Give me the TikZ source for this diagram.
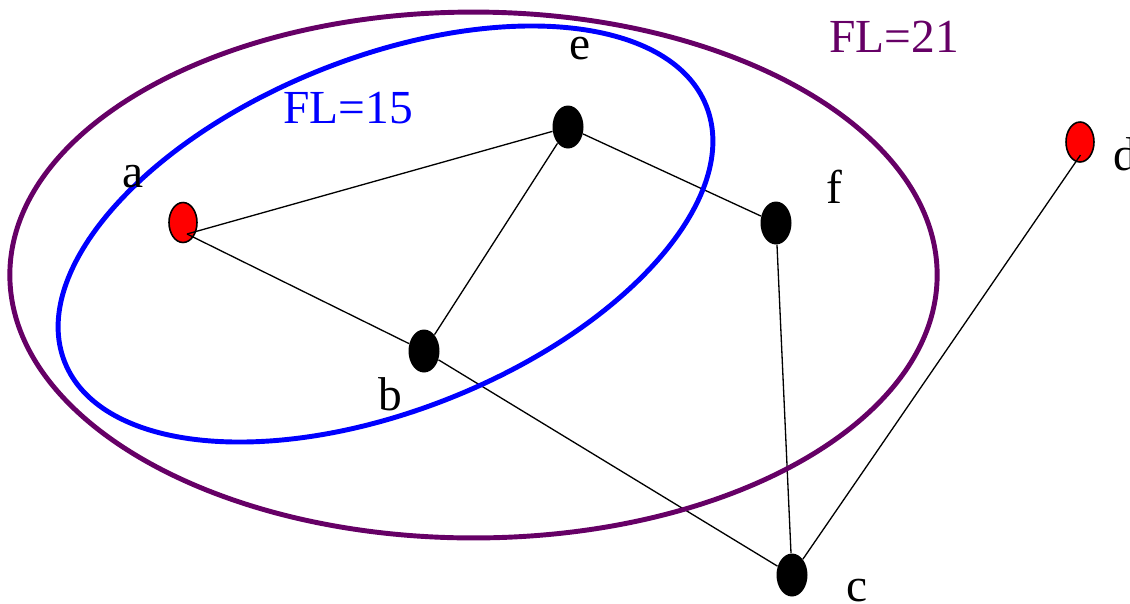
\documentclass[tikz,border=0pt]{standalone}
\usepackage{fontspec}
\setmainfont{Liberation Serif}
\usetikzlibrary{shapes.geometric}
\definecolor{flpurple}{RGB}{102,0,102}
\tikzset{
  blackvtx/.style={ellipse, fill=black, minimum width=0.62cm, minimum height=0.86cm, inner sep=0pt},
  redvtx/.style={ellipse, fill=red, draw=black, line width=0.9pt, minimum width=0.56cm, minimum height=0.8cm, inner sep=0pt},
  lbl/.style={anchor=base west, inner sep=0pt, font=\fontsize{27}{32}\selectfont},
  edge/.style={draw=black, line width=0.75pt},
  ring/.style={line width=2.8pt}
}
\begin{document}
\begin{tikzpicture}[x=0.02cm,y=-0.02cm]
\useasboundingbox (0,0) rectangle (1130,603);
% vertices
\node[redvtx] (a) at (183,222.5) {};
\node[blackvtx] (e) at (568,127) {};
\node[blackvtx] (f) at (776,223) {};
\node[blackvtx] (b) at (424,351) {};
\node[blackvtx] (c) at (792,575) {};
\node[redvtx] (d) at (1080,142) {};
\coordinate (aa) at (187,234);
\coordinate (dd) at (1080.5,155);
% edges
\draw[edge] (aa) -- (e);
\draw[edge] (aa) -- (b);
\draw[edge] (e) -- (b);
\draw[edge] (e) -- (f);
\draw[edge] (f) -- (c);
\draw[edge] (b) -- (c);
\draw[edge] (c) -- (dd);
% sets
\draw[ring, flpurple] (473.5,275) ellipse [x radius=9.275cm, y radius=5.26cm];
\draw[ring, blue, rotate around={21.8:(385.5,234)}] (385.5,234) ellipse [x radius=6.91cm, y radius=3.528cm];
% labels
\node[lbl, text=flpurple] (fl21) at (829,52) {FL=21};
\node[lbl, text=blue] (fl15) at (283,123) {FL=15};
\node[lbl] (la) at (122,187) {a};
\node[lbl] (le) at (569,59) {e};
\node[lbl] (lf) at (826,203) {f};
\node[lbl] (lb) at (378,410) {b};
\node[lbl] (lc) at (846,601) {c};
\node[lbl] (ld) at (1113,170) {d};
\end{tikzpicture}
\end{document}
